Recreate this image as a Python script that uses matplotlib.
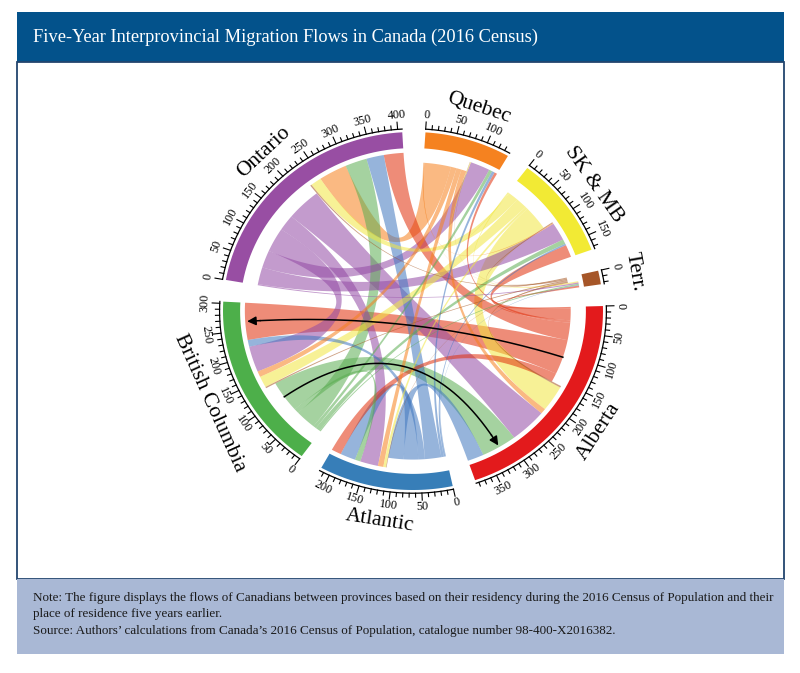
import numpy as np
import matplotlib
matplotlib.use("Agg")
import matplotlib.pyplot as plt
from matplotlib.patches import Polygon, Rectangle

# ---------------- data (thousands of migrants, 2011-2016) ----------------
regions = ["Ontario", "Quebec", "SK & MB", "Terr.", "Alberta", "Atlantic", "British Columbia"]
track_colors = ["#984EA3", "#F58220", "#F2EA34", "#A65628", "#E31A1C", "#377EB8", "#4DAF4A"]
chord_colors = ["#9249A4", "#F6801C", "#F2E740", "#A4521C", "#E02E0A", "#4077BF", "#5BAD52"]
# link ordering inside every sector (reverse alphabetical)
link_order = ["Terr.", "SK & MB", "Quebec", "Ontario", "British Columbia", "Atlantic", "Alberta"]

# rows: origin, columns: destination (same order as `regions`)
from_ontario  = [0.0, 36.0, 35.0, 2.5, 68.0, 33.0, 50.0]
from_quebec   = [52.0, 0.0, 1.5, 0.5, 10.0, 10.0, 11.0]
from_skmb     = [20.0, 1.5, 0.0, 2.0, 50.0, 5.0, 22.0]
from_terr     = [2.5, 0.5, 2.0, 0.0, 3.0, 1.0, 2.5]
from_alberta  = [36.0, 5.0, 24.0, 3.5, 0.0, 18.0, 72.0]
from_atlantic = [32.0, 5.0, 3.0, 1.0, 30.0, 28.0, 13.0]
from_bc       = [40.0, 6.0, 9.0, 2.5, 65.0, 10.0, 0.0]

arrow_links = [("Alberta", "British Columbia"), ("British Columbia", "Alberta")]

title = "Five-Year Interprovincial Migration Flows in Canada (2016 Census)"
note_lines = [
    "Note: The figure displays the flows of Canadians between provinces based on their residency during the 2016 Census of Population and their",
    "place of residence five years earlier.",
    "Source: Authors\u2019 calculations from Canada\u2019s 2016 Census of Population, catalogue number 98-400-X2016382.",
]

flows = np.array([from_ontario, from_quebec, from_skmb, from_terr,
                  from_alberta, from_atlantic, from_bc])
n = len(regions)

# ---------------- figure / frame ----------------
W, H = 800, 673
fig = plt.figure(figsize=(W / 100, H / 100), dpi=100)
bg = fig.add_axes([0, 0, 1, 1])
bg.set_xlim(0, W)
bg.set_ylim(H, 0)
bg.axis("off")

serif = ["Liberation Serif", "DejaVu Serif"]
bg.add_patch(Rectangle((17, 12), 767, 50, facecolor="#03528B", edgecolor="none"))
bg.add_patch(Rectangle((17, 62), 767, 517, facecolor="white", edgecolor="#23456E", lw=1.3))
bg.add_patch(Rectangle((17, 579), 767, 75, facecolor="#A9B8D5", edgecolor="none"))
bg.text(33, 37, title, color="white", fontsize=13.2, family=serif, va="center", ha="left")
for k, line in enumerate(note_lines):
    bg.text(33, 598 + 16.5 * k, line, color="#1A1A1A", fontsize=9.45, family=serif,
            va="center", ha="left")

# ---------------- chord axes ----------------
cx, cy, rx, ry, L = 413, 311, 190, 179, 1.3
ax = fig.add_axes([(cx - L * rx) / W, (H - cy - L * ry) / H, 2 * L * rx / W, 2 * L * ry / H])
ax.set_xlim(-L, L)
ax.set_ylim(-L, L)
ax.axis("off")

totals = flows.sum(axis=1) + flows.sum(axis=0)
gap = 7.0
start_deg = 170.0
dpu = (360.0 - n * gap) / totals.sum()
sec_start = []
cur = start_deg
for i in range(n):
    sec_start.append(cur)
    cur -= totals[i] * dpu + gap


def ang(i, v):
    return np.radians(sec_start[i] - v * dpu)


def pt(r, a):
    return np.array([r * np.cos(a), r * np.sin(a)])


def arc(r, a1, a2, m=40):
    t = np.linspace(a1, a2, m)
    return np.column_stack([r * np.cos(t), r * np.sin(t)])


def bez(p0, p2, m=60):
    t = np.linspace(0, 1, m)[:, None]
    return (1 - t) ** 2 * p0 + t ** 2 * p2


def disp_rot(a):
    d = np.degrees(np.arctan2(ry * np.sin(a), rx * np.cos(a))) - 90
    while d <= -90:
        d += 180
    while d > 90:
        d -= 180
    return d


R_TRK_IN, R_TRK_OUT = 0.91, 1.0
R_IN, R_OUT = 0.885, 0.83
R_AX = 1.018

# link positions
idx = {name: k for k, name in enumerate(regions)}
out_pos, in_pos = {}, {}
for i in range(n):
    c = 0.0
    for name in link_order:
        j = idx[name]
        v = flows[i, j]
        if v > 0:
            out_pos[(i, j)] = (c, c + v)
            c += v
    for name in link_order:
        j = idx[name]
        v = flows[j, i]
        if v > 0:
            in_pos[(j, i)] = (c, c + v)
            c += v

links = sorted(out_pos.keys(), key=lambda k: -flows[k])
for (i, j) in links:
    s1, s2 = ang(i, out_pos[(i, j)][0]), ang(i, out_pos[(i, j)][1])
    t1, t2 = ang(j, in_pos[(i, j)][0]), ang(j, in_pos[(i, j)][1])
    poly = np.vstack([arc(R_OUT, s1, s2), bez(pt(R_OUT, s2), pt(R_IN, t1)),
                      arc(R_IN, t1, t2), bez(pt(R_IN, t2), pt(R_OUT, s1))])
    ax.add_patch(Polygon(poly, closed=True, facecolor=chord_colors[i], alpha=0.55,
                         edgecolor="none", zorder=2))

# arrows along two chords
for a_from, a_to in arrow_links:
    i, j = idx[a_from], idx[a_to]
    sm = ang(i, np.mean(out_pos[(i, j)]))
    tm = ang(j, np.mean(in_pos[(i, j)]))
    line = bez(pt(R_OUT, sm), pt(R_IN - 0.01, tm), 200)
    ax.plot(line[:-8, 0], line[:-8, 1], color="black", lw=1.1, zorder=5)
    ax.annotate("", xy=line[-1], xytext=line[-9],
                arrowprops=dict(arrowstyle="-|>", color="black", lw=1.1,
                                mutation_scale=13, shrinkA=0, shrinkB=0), zorder=6)

# tracks, axes, ticks, labels
for i in range(n):
    a0, a1 = ang(i, 0), ang(i, totals[i])
    poly = np.vstack([arc(R_TRK_OUT, a0, a1), arc(R_TRK_IN, a1, a0)])
    ax.add_patch(Polygon(poly, closed=True, facecolor=track_colors[i], edgecolor="none", zorder=3))
    ax_line = arc(R_AX, a0, a1)
    ax.plot(ax_line[:, 0], ax_line[:, 1], color="black", lw=0.9, zorder=4)
    for v in np.arange(0, totals[i] + 1e-9, 10):
        a = ang(i, v)
        major = (v % 50 == 0)
        r2 = R_AX + (0.04 if major else 0.022)
        p1, p2 = pt(R_AX, a), pt(r2, a)
        ax.plot([p1[0], p2[0]], [p1[1], p2[1]], color="black", lw=0.8, zorder=4)
        if major:
            p = pt(1.095, a)
            ax.text(p[0], p[1], f"{int(v)}", fontsize=8.7, family=serif, ha="center",
                    va="center", rotation=disp_rot(a), rotation_mode="anchor", zorder=4)
    am = ang(i, totals[i] / 2)
    p = pt(1.185, am)
    ax.text(p[0], p[1], regions[i], fontsize=15.5, family=serif, ha="center", va="center",
            rotation=disp_rot(am), rotation_mode="anchor", zorder=4)

fig.savefig("out.png", dpi=100)
